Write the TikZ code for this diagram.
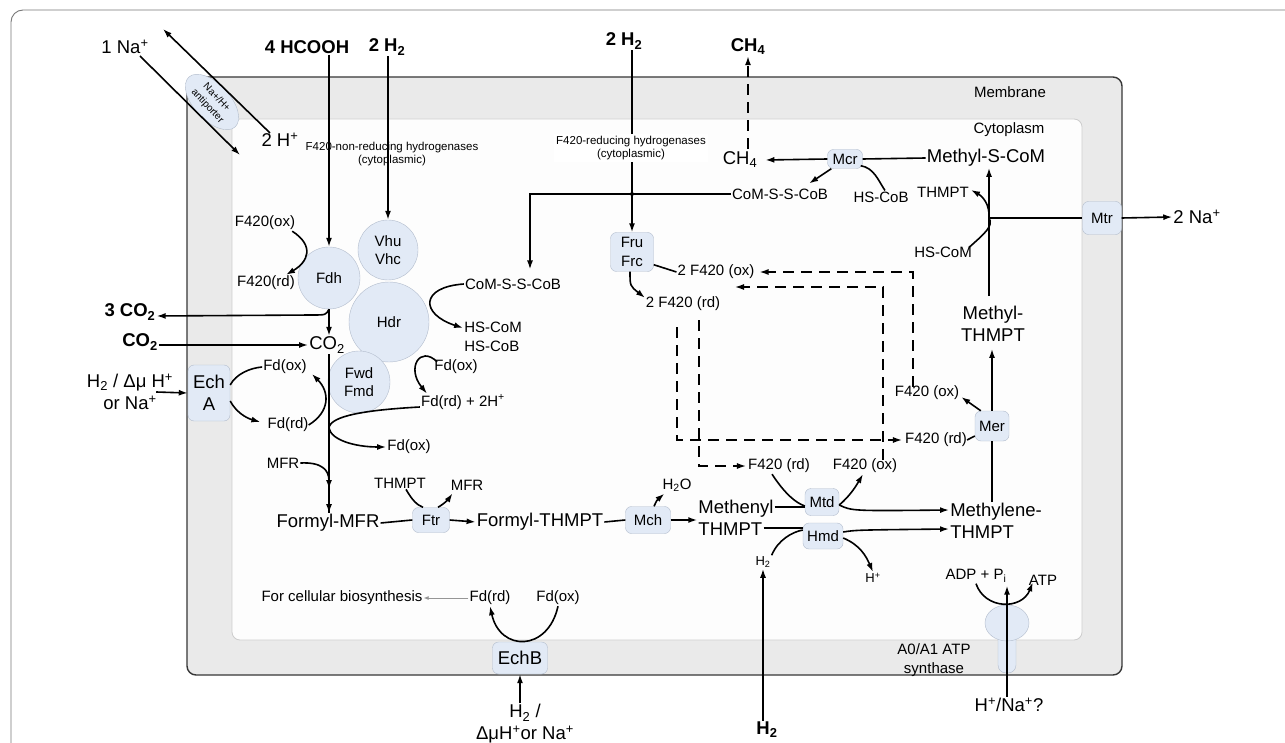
\documentclass[tikz,border=0pt]{standalone}
\usepackage{fontspec}
\setmainfont{Liberation Sans}
\usetikzlibrary{arrows.meta,shapes.geometric,calc}
\definecolor{enzfill}{RGB}{226,234,246}
\definecolor{enzborder}{RGB}{178,188,204}
\definecolor{memfill}{RGB}{234,234,234}
\definecolor{memdraw}{RGB}{55,55,55}
\definecolor{cytofill}{RGB}{253,253,253}
\definecolor{cytodraw}{RGB}{205,205,205}
\definecolor{framegray}{RGB}{120,120,120}
\definecolor{thingray}{RGB}{150,150,150}
\newcommand{\fbig}{\fontsize{18.5}{22}\selectfont}
\newcommand{\fsmall}{\fontsize{15}{18.5}\selectfont}
\newcommand{\ftiny}{\fontsize{11.5}{13.5}\selectfont}
\newcommand{\fanti}{\fontsize{10}{12.5}\selectfont}
\newcommand{\fbold}{\fontsize{18.5}{22}\selectfont\bfseries}
\newcommand{\sbs}[1]{\textsubscript{#1}}
\newcommand{\sps}[1]{\textsuperscript{#1}}
\begin{document}
\begin{tikzpicture}[x=1pt,y=-1pt,
  lbl/.style={inner sep=1pt, align=center},
  enz/.style={draw=enzborder, fill=enzfill, rounded corners=6pt, inner sep=0pt, align=center, font=\fsmall},
  circ/.style={circle, draw=enzborder, fill=enzfill, inner sep=0pt, align=center, font=\fsmall},
  ln/.style={line width=1.6pt},
  arr/.style={line width=1.6pt, -{Latex[length=9pt,width=6pt]}},
  dsh/.style={line width=1.4pt, dash pattern=on 11pt off 7pt},
]
\fill[white] (0,0) rectangle (1285,743);
\useasboundingbox (0,0) rectangle (1285,743);
\draw[framegray, line width=0.9pt, rounded corners=12pt] (11,760) -- (11,10) -- (1300,10);

% compartments
\draw[fill=memfill, draw=memdraw, line width=1.4pt, rounded corners=9pt] (187,77) rectangle (1122,675);
\draw[fill=cytofill, draw=cytodraw, line width=0.8pt, rounded corners=8pt] (232,119) rectangle (1082,640);
\node[lbl,font=\fsmall] (membrane) at (1010,92) {Membrane};
\node[lbl,font=\fsmall] (cytoplasm) at (1009,130) {Cytoplasm};

% antiporter
\node[ellipse, draw=enzborder, fill=enzfill, rotate=-47, minimum width=68pt, minimum height=36pt, inner sep=0pt, align=center, font=\fanti] (anti) at (212,102) {Na+/H+\\antiporter};
\node[lbl,font=\fbig] (na1) at (125,47) {1 Na\sps{+}};
\node[lbl,font=\fbig] (h2p) at (280,140) {2 H\sps{+}};
\coordinate (naS) at (140,56);
\coordinate (naE) at (240,155);
\coordinate (hpS) at (270,133);
\coordinate (hpE) at (163,29);
\draw[arr] (naS) -- (naE);
\draw[arr] (hpS) -- (hpE);

% top inputs
\node[lbl,font=\fbold] (hcooh) at (307,47) {4 HCOOH};
\node[lbl,font=\fbold] (h2a) at (387,47) {2 H\sbs{2}};
\node[lbl,font=\fbold] (h2b) at (624,41) {2 H\sbs{2}};
\node[lbl,font=\fbold] (ch4o) at (748,47) {CH\sbs{4}};
\node[lbl,font=\ftiny] (nonred) at (392,154) {F420-non-reducing hydrogenases\\(cytoplasmic)};

% left enzyme cluster
\node[circ, minimum size=62pt] (fdh) at (329,278) {Fdh};
\node[circ, minimum size=60pt] (vhu) at (388,250) {Vhu\\Vhc};
\node[circ, minimum size=80pt] (hdr) at (389,322) {Hdr};
\node[circ, minimum size=62pt] (fwd) at (359,382) {Fwd\\Fmd};

\draw[arr] (hcooh.south -| fdh.north) -- (fdh.north);
\draw[arr] (h2a.south -| vhu.north) -- (vhu.north);

\node[lbl,font=\fsmall] (f420ox1) at (265,223) {F420(ox)};
\node[lbl,font=\fsmall] (f420rd1) at (266,283) {F420(rd)};
\draw[arr] ([xshift=-4pt]f420ox1.south east) .. controls (315,246) and (308,262) .. ([xshift=-10pt]f420rd1.north east);

\node[lbl,font=\fbold] (co2o3) at (130,312) {3 CO\sbs{2}};
\node[lbl,font=\fbold] (co2o) at (140,342) {CO\sbs{2}};
\node[lbl,font=\fbig] (co2i) at (327,345) {CO\sbs{2}};
\draw[arr] (fdh.south) -- (co2i.north -| fdh.south);
\draw[arr] (fdh.south) .. controls (326,315) .. (312,315) -- ([yshift=-4pt]co2o3.east);
\draw[arr] (co2o.east |- co2i.west) -- (co2i.west);

\node[lbl,font=\fbig] (h2dmu) at (130,392) {H\sbs{2} / Δμ H\sps{+}\\or Na\sps{+}};
\node[enz, font=\fbig, minimum width=42pt, minimum height=56pt] (echa) at (209,393) {Ech\\A};
\draw[arr] ([xshift=-18pt]h2dmu.east) -- (echa.west);

\node[lbl,font=\fsmall] (fdox1) at (285,367) {Fd(ox)};
\node[lbl,font=\fsmall] (fdrd1) at (288,425) {Fd(rd)};
\draw[ln] ([yshift=8pt]echa.east) .. controls (236,374) and (250,368) .. (fdox1.west);
\draw[arr] ([yshift=-8pt]echa.east) .. controls (236,412) and (246,418) .. ([xshift=-6pt,yshift=3pt]fdrd1.west);
\draw[arr] ([xshift=-1pt]fdrd1.east) .. controls (330,412) and (330,392) .. ([xshift=4pt,yshift=-7pt]fdox1.east);

\node[lbl,font=\fsmall] (fdrd2h) at (463,402) {Fd(rd) + 2H\sps{+}};
\node[lbl,font=\fsmall] (fdox2) at (409,447) {Fd(ox)};
\node[lbl,font=\fsmall] (fdox3) at (456,367) {Fd(ox)};
\coordinate (fdj) at (329,428);
\draw[arr] ([yshift=-5pt]fdrd2h.west) .. controls (365,410) and (330,416) .. (fdj) .. controls (331,440) and (355,447) .. (fdox2.west);
\draw[arr] ([xshift=4pt,yshift=-3pt]fdox3.north west) .. controls (420,345) and (406,368) .. ([xshift=-36pt]fdrd2h.north);

\node[lbl,font=\fsmall] (comssc2) at (513,284) {CoM-S-S-CoB};
\node[lbl,font=\fsmall, align=left] (hscomb) at (493,337) {HS-CoM\\HS-CoB};
\draw[arr] (comssc2.west) .. controls (420,287) and (420,314) .. ([yshift=9pt]hscomb.west);

\node[lbl,font=\fsmall] (mfr1) at (283,463) {MFR};
\node[lbl,font=\fbig] (formylmfr) at (328,523) {Formyl-MFR};
\coordinate (mfrj) at (329,489);
\draw[ln] (co2i.south -| fdh.south) -- (formylmfr.north -| fdh.south);
\draw[arr] (formylmfr.north -| fdh.south) ++(0,-10) -- (formylmfr.north -| fdh.south);
\draw[arr] (mfr1.east) .. controls (322,462) and (329,470) .. (mfrj);

% Ftr / Mch row
\node[enz, minimum width=37pt, minimum height=25pt] (ftr) at (431,520) {Ftr};
\node[lbl,font=\fbig] (formylthmpt) at (540,522) {Formyl-THMPT};
\node[lbl,font=\fsmall] (thmpt2) at (400,483) {THMPT};
\node[lbl,font=\fsmall] (mfr2) at (467,485) {MFR};
\draw[ln] (formylmfr.east) -- (ftr.west);
\draw[arr] (ftr.east) -- (formylthmpt.west);
\draw[ln] ([xshift=6pt]thmpt2.south) .. controls (412,500) and (417,505) .. ([xshift=-8pt]ftr.north);
\draw[arr] ([xshift=7pt]ftr.north) .. controls (447,502) and (450,497) .. ([xshift=3pt,yshift=-2pt]mfr2.south west);

\node[enz, minimum width=45pt, minimum height=27pt] (mch) at (648,520) {Mch};
\node[lbl,font=\fsmall] (h2o) at (677,485) {H\sbs{2}O};
\node[lbl,font=\fbig, align=left] (methenyl) at (736,518) {Methenyl\\THMPT};
\draw[ln] (formylthmpt.east) -- (mch.west);
\draw[arr] (mch.east) -- (methenyl.west |- mch.east);
\draw[arr] ([xshift=6pt]mch.north) .. controls (657,500) .. ([xshift=3pt,yshift=-1pt]h2o.south west);

% Mtd / Hmd
\node[enz, minimum width=34pt, minimum height=27pt] (mtd) at (822,502) {Mtd};
\node[enz, minimum width=40pt, minimum height=26pt] (hmd) at (823,536) {Hmd};
\node[lbl,font=\fbig, align=left] (methylene) at (996,521) {Methylene-\\THMPT};
\node[lbl,font=\fsmall] (f420rdt) at (779,466) {F420 (rd)};
\node[lbl,font=\fsmall] (f420oxt) at (865,466) {F420 (ox)};
\node[lbl,font=\fontsize{13}{15}\selectfont] (h2s) at (763,562) {H\sbs{2}};
\node[lbl,font=\fontsize{13}{15}\selectfont] (hplus) at (873,578) {H\sps{+}};
\node[lbl,font=\fbold] (h2bot) at (767,730) {H\sbs{2}};
\draw[ln] ([yshift=11pt]methenyl.east) -- ([yshift=-5pt]mtd.west);
\draw[ln] ([xshift=-11pt,yshift=-10pt]methenyl.east) -- ([yshift=8pt]hmd.west);
\draw[ln] ([xshift=-7pt]f420rdt.south) .. controls (785,494) and (796,503) .. ([yshift=-4pt]mtd.west);
\draw[arr] ([yshift=-3pt]mtd.east) .. controls (850,496) and (856,486) .. ([xshift=-2pt]f420oxt.south);
\draw[arr] ([yshift=-3pt]mtd.east) .. controls (852,511) .. ([yshift=11pt]methylene.west);
\draw[ln] (h2s.north east) .. controls (778,540) and (792,532) .. ([yshift=6pt]hmd.west);
\draw[arr] ([yshift=4pt]hmd.east) .. controls (856,530) .. ([yshift=-8pt]methylene.west);
\draw[arr] ([yshift=-2pt]hmd.east) .. controls (860,545) and (866,556) .. (hplus.north);
\draw[arr] (h2bot.north -| h2s.south) -- (h2s.south);

% Mer / Methyl-THMPT
\node[enz, minimum width=34pt, minimum height=30pt] (mer) at (992,426) {Mer};
\node[lbl,font=\fbig] (methylthmpt) at (993,324) {Methyl-\\THMPT};
\node[lbl,font=\fsmall] (f420oxm) at (927,393) {F420 (ox)};
\node[lbl,font=\fsmall] (f420rdm) at (936,440) {F420 (rd)};
\draw[ln] (mer.south |- methylene.north) -- (mer.south);
\draw[arr] (mer.north) -- ([yshift=-6pt]mer.north |- methylthmpt.south);
\draw[arr] ([xshift=6pt]mer.north west) -- ([xshift=1pt,yshift=-4pt]f420oxm.east);
\draw[ln] ([xshift=-1pt]f420rdm.east) -- ([yshift=-10pt]mer.west);

% Methyl-S-CoM, Mtr
\node[lbl,font=\fbig] (methylscom) at (986,158) {Methyl-S-CoM};
\node[enz, minimum width=39pt, minimum height=33pt] (mtr) at (1102,218) {Mtr};
\node[lbl,font=\fbig] (na2) at (1197,217) {2 Na\sps{+}};
\node[lbl,font=\fsmall] (thmpt1) at (943,192) {THMPT};
\node[lbl,font=\fsmall] (hscom1) at (943,252) {HS-CoM};
\coordinate (mj) at (989,218);
\draw[arr] (mj |- methylthmpt.north) ++(0,-9) -- (mj |- methylscom.south);
\draw[ln] (mj) -- (mtr.west);
\draw[arr] (mtr.east) -- (na2.west);
\draw[arr] ([xshift=-4pt,yshift=-2pt]hscom1.north east) .. controls (984,234) and (994,226) .. (mj) .. controls (990,204) and (982,196) .. ([xshift=1pt,yshift=2pt]thmpt1.east);

% Mcr
\node[enz, minimum width=35pt, minimum height=19pt] (mcr) at (845,159) {Mcr};
\node[lbl,font=\fbig] (ch4i) at (740,160) {CH\sbs{4}};
\node[lbl,font=\fsmall] (comssc1) at (780,194) {CoM-S-S-CoB};
\node[lbl,font=\fsmall] (hscob) at (881,197) {HS-CoB};
\draw[ln] (methylscom.west) -- (mcr.east);
\draw[arr] (mcr.west) -- ([xshift=7pt]ch4i.east);
\draw[arr] ([xshift=4pt]mcr.south west) -- ([xshift=-20pt,yshift=4pt]comssc1.north east);
\draw[ln] ([xshift=-2pt,yshift=3pt]mcr.south east) .. controls (874,168) and (878,180) .. ([xshift=4pt]hscob.north);
\draw[arr, dashed, dash pattern=on 11pt off 7pt] ([yshift=2pt]ch4i.north -| ch4o.south) -- (ch4o.south);

% Fru / Frc and F420 loop
\node[enz, minimum width=43pt, minimum height=39pt] (fru) at (632,252) {Fru\\Frc};
\draw[arr] (h2b.south -| fru.north) -- (fru.north);
\node[lbl,font=\ftiny, fill=white, inner sep=2pt] (red) at (631,148) {F420-reducing hydrogenases\\(cytoplasmic)};
\draw[arr] (comssc1.west) -| ([xshift=17pt,yshift=8pt]comssc2.north);
\fill (fru.north |- comssc1.west) circle (2pt);

\node[lbl,font=\fsmall] (f420ox2) at (716,272) {2 F420 (ox)};
\node[lbl,font=\fsmall] (f420rd2) at (683,304) {2 F420 (rd)};
\draw[ln] ([yshift=7pt]fru.south east) -- (f420ox2.west);
\draw[arr] ([xshift=-2pt]fru.south) .. controls (630,286) .. ([xshift=-38pt,yshift=-2pt]f420rd2.north);
\coordinate (pool2) at (735,287);
\draw[dsh, -{Latex[length=9pt,width=6pt]}] ([xshift=-14pt,yshift=-2pt]f420oxm.north) |- ([xshift=4pt]f420ox2.east);
\draw[dsh, -{Latex[length=9pt,width=6pt]}] ([xshift=18pt,yshift=-2pt]f420oxt.north) |- (pool2);
\draw[dsh, -{Latex[length=9pt,width=6pt]}] ([xshift=-6pt,yshift=-15pt]f420rd2.south) |- ([xshift=-2pt]f420rdm.west);
\draw[dsh, -{Latex[length=9pt,width=6pt]}] ([xshift=16pt,yshift=-8pt]f420rd2.south) |- ([xshift=-1pt]f420rdt.west);

% EchB
\node[lbl,font=\fsmall] (cellbio) at (342,598) {For cellular biosynthesis};
\node[lbl,font=\fsmall] (fdrd3) at (490,598) {Fd(rd)};
\node[lbl,font=\fsmall] (fdox4) at (558,598) {Fd(ox)};
\node[enz, font=\fbig, minimum width=55pt, minimum height=32pt] (echb) at (520,658) {EchB};
\node[lbl,font=\fbig] (h2echb) at (525,724) {H\sbs{2} /\\ΔμH\sps{+}or Na\sps{+}};
\draw[thingray, line width=0.8pt, -{Latex[length=5pt,width=4pt]}] (fdrd3.west) -- (cellbio.east);
\draw[arr] (fdox4.south) .. controls (548,652) and (500,652) .. (fdrd3.south);
\draw[arr] (echb.south |- h2echb.north) -- (echb.south);

% ATP synthase
\node[draw=enzborder, fill=enzfill, rounded corners=8pt, minimum width=18pt, minimum height=46pt, inner sep=0pt] (atps) at (1007,650) {};
\node[ellipse, draw=enzborder, fill=enzfill, minimum width=44pt, minimum height=36pt, inner sep=0pt] (atpb) at (1007,623) {};
\node[lbl,font=\fsmall] (adp) at (976,576) {ADP + P\sbs{i}};
\node[lbl,font=\fsmall] (atp) at (1043,580) {ATP};
\node[lbl,font=\fsmall] (a0a1) at (934,660) {A0/A1 ATP\\synthase};
\node[lbl,font=\fbig] (hna) at (1009,705) {H\sps{+}/Na\sps{+}?};
\draw[arr] (hna.north -| atpb.center) -- ([yshift=-2pt]atpb.center |- adp.south);
\draw[arr] (adp.south) .. controls (985,610) and (1022,610) .. ([xshift=5pt,yshift=4pt]atp.south west);
\end{tikzpicture}
\end{document}
